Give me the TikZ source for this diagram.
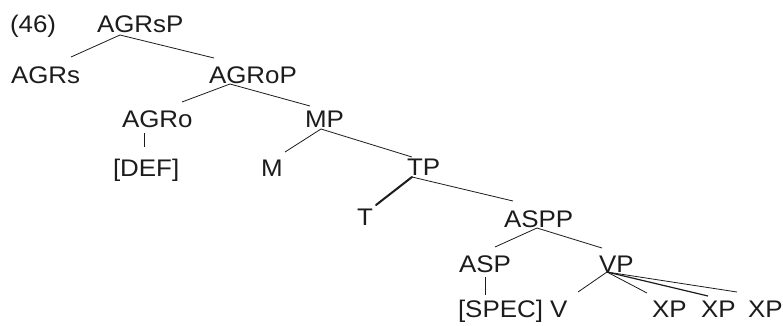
\documentclass[tikz,border=0pt]{standalone}
\usepackage{fontspec}
\setmainfont{Liberation Sans}[FakeStretch=1.08]
\definecolor{ink}{HTML}{1C1C1C}
\begin{document}
\begin{tikzpicture}[x=1pt,y=-1pt,
  lab/.style={anchor=base west,inner sep=0pt,outer sep=0pt,text=ink,
    font=\fontsize{24}{24}\selectfont},
  branch/.style={draw=ink,line width=0.8pt},
  heavy/.style={draw=ink,line width=2pt,line cap=round}]
\useasboundingbox[fill=white] (0,0) rectangle (783,325);

% labels
\node[lab] (ex)    at (10,32)  {(46)};
\node[lab] (agrsp) at (97,32)  {AGRsP};
\node[lab] (agrs)  at (11,83)  {AGRs};
\node[lab] (agrop) at (209,83) {AGRoP};
\node[lab] (agro)  at (122,127) {AGRo};
\node[lab] (mp)    at (305,127) {MP};
\node[lab] (def)   at (113,176) {[DEF]};
\node[lab] (m)     at (261,176) {M};
\node[lab] (tp)    at (407,175) {TP};
\node[lab] (t)     at (357,225) {T};
\node[lab] (aspp)  at (504,227) {ASPP};
\node[lab] (asp)   at (459,272) {ASP};
\node[lab] (vp)    at (599,272) {VP};
\node[lab] (spec)  at (458,317) {[SPEC]};
\node[lab] (v)     at (550,317) {V};
\node[lab] (xpa)   at (652,317) {XP};
\node[lab] (xpb)   at (701,317) {XP};
\node[lab] (xpc)   at (748,317) {XP};

% branches
\draw[branch] ([shift={(23,3)}]agrsp.base west) -- ([shift={(60,-26)}]agrs.base west);
\draw[branch] ([shift={(23,3)}]agrsp.base west) -- ([shift={(5,-25)}]agrop.base west);
\draw[branch] ([shift={(21,1)}]agrop.base west) -- ([shift={(60,-25)}]agro.base west);
\draw[branch] ([shift={(21,1)}]agrop.base west) -- ([shift={(5,-21)}]mp.base west);
\draw[branch] ([shift={(22,6)}]agro.base west) -- ([shift={(31,-29)}]def.base west);
\draw[branch] ([shift={(16,2)}]mp.base west) -- ([shift={(24,-24)}]m.base west);
\draw[branch] ([shift={(16,2)}]mp.base west) -- ([shift={(5,-18)}]tp.base west);
\draw[heavy]  ([shift={(5,2)}]tp.base west) -- ([shift={(19,-20)}]t.base west);
\draw[branch] ([shift={(5,2)}]tp.base west) -- ([shift={(9,-26)}]aspp.base west);
\draw[branch] ([shift={(33,1)}]aspp.base west) -- ([shift={(36,-25)}]asp.base west);
\draw[branch] ([shift={(33,1)}]aspp.base west) -- ([shift={(3,-24)}]vp.base west);
\draw[branch] ([shift={(26,5)}]asp.base west) -- ([shift={(27,-22)}]spec.base west);
\draw[branch] ([shift={(8,0)}]vp.base west) -- ([shift={(28,-25)}]v.base west);
\draw[branch] ([shift={(8,0)}]vp.base west) -- ([shift={(-5,-24)}]xpa.base west);
\draw[branch,line width=1.2pt] ([shift={(8,0)}]vp.base west) -- ([shift={(7,-21)}]xpb.base west);
\draw[branch] ([shift={(8,0)}]vp.base west) -- ([shift={(-11,-25)}]xpc.base west);
\end{tikzpicture}
\end{document}
